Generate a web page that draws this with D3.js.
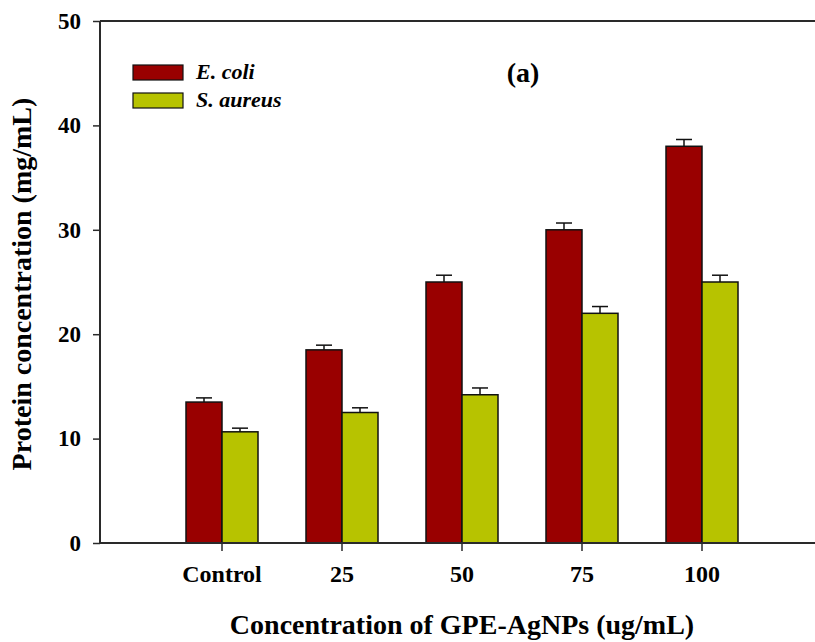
<!DOCTYPE html>
<html>
<head>
<meta charset="utf-8">
<script src="https://cdn.jsdelivr.net/npm/d3@7"></script>
<style>
  html, body { margin: 0; padding: 0; background: #fff; }
  svg { display: block; }
  text { font-family: "Liberation Serif", "Times New Roman", serif; font-weight: bold; fill: #000; }
</style>
</head>
<body>
<svg id="chart" width="815" height="642"></svg>
<script>
// ---- data ----
const categories = ["Control", "25", "50", "75", "100"];
const seriesNames = ["E. coli", "S. aureus"];
const ecoliValues = [13.5, 18.5, 25.0, 30.0, 38.0];
const ecoliErrors = [0.4, 0.45, 0.65, 0.65, 0.65];
const saureusValues = [10.65, 12.5, 14.2, 22.0, 25.0];
const saureusErrors = [0.35, 0.45, 0.65, 0.65, 0.65];
const yTicks = [0, 10, 20, 30, 40, 50];
const seriesColors = ["#990000", "#b7c300"];

const series = [
  { name: seriesNames[0], values: ecoliValues, errors: ecoliErrors, color: seriesColors[0] },
  { name: seriesNames[1], values: saureusValues, errors: saureusErrors, color: seriesColors[1] }
];

const svg = d3.select("#chart");
const plotLeft = 100, plotRight = 815, plotTop = 21, plotBottom = 543;

const x = d3.scaleBand().domain(categories).range([162, 762]).paddingInner(0.4).paddingOuter(0.2);
const xs = d3.scaleBand().domain(seriesNames).range([0, x.bandwidth()]);
const y = d3.scaleLinear().domain([0, 50]).range([plotBottom, plotTop]);

// bars
series.forEach(s => {
  const g = svg.append("g");
  g.selectAll("rect").data(categories).join("rect")
    .attr("x", c => x(c) + xs(s.name))
    .attr("y", (c, i) => y(s.values[i]))
    .attr("width", xs.bandwidth())
    .attr("height", (c, i) => y(0) - y(s.values[i]))
    .attr("fill", s.color)
    .attr("stroke", "#111")
    .attr("stroke-width", 1.5);
  // error bars
  const eg = svg.append("g").attr("stroke", "#111").attr("stroke-width", 1.5);
  categories.forEach((c, i) => {
    const cx = x(c) + xs(s.name) + xs.bandwidth() / 2;
    eg.append("line").attr("x1", cx).attr("x2", cx)
      .attr("y1", y(s.values[i])).attr("y2", y(s.values[i] + s.errors[i]));
    eg.append("line").attr("x1", cx - 8).attr("x2", cx + 8)
      .attr("y1", y(s.values[i] + s.errors[i])).attr("y2", y(s.values[i] + s.errors[i]));
  });
});

// axes
const axisColor = "#2a2a2a";
const xAxis = svg.append("g").attr("transform", `translate(0,${plotBottom})`)
  .call(d3.axisBottom(x).tickSize(8).tickPadding(14));
xAxis.select(".domain").remove();
xAxis.selectAll(".tick line").attr("stroke", axisColor).attr("stroke-width", 1.5);
xAxis.selectAll(".tick text").attr("font-size", 24).attr("fill", "#000")
  .style("font-family", "'Liberation Serif', 'Times New Roman', serif").style("font-weight", "bold");

const yAxis = svg.append("g").attr("transform", `translate(${plotLeft},0)`)
  .call(d3.axisLeft(y).tickValues(yTicks).tickFormat(d3.format("d")).tickSize(7).tickPadding(12));
yAxis.select(".domain").remove();
yAxis.selectAll(".tick line").attr("stroke", axisColor).attr("stroke-width", 1.5);
yAxis.selectAll(".tick text").attr("font-size", 23).attr("fill", "#000")
  .style("font-family", "'Liberation Serif', 'Times New Roman', serif").style("font-weight", "bold");

// frame lines (left, bottom, top)
svg.append("line").attr("x1", plotLeft).attr("x2", plotLeft).attr("y1", plotTop).attr("y2", plotBottom)
  .attr("stroke", axisColor).attr("stroke-width", 2);
svg.append("line").attr("x1", plotLeft).attr("x2", plotRight).attr("y1", plotBottom).attr("y2", plotBottom)
  .attr("stroke", axisColor).attr("stroke-width", 2);
svg.append("line").attr("x1", plotLeft).attr("x2", plotRight).attr("y1", plotTop).attr("y2", plotTop)
  .attr("stroke", axisColor).attr("stroke-width", 2);

// axis titles
svg.append("text").attr("x", 462).attr("y", 634).attr("text-anchor", "middle")
  .attr("font-size", 28).text("Concentration of GPE-AgNPs (ug/mL)");
svg.append("text").attr("transform", "translate(31,284) rotate(-90)").attr("text-anchor", "middle")
  .attr("font-size", 28).text("Protein concentration (mg/mL)");

// panel label
svg.append("text").attr("x", 523).attr("y", 82).attr("text-anchor", "middle")
  .attr("font-size", 28).text("(a)");

// legend
const legend = svg.append("g");
series.forEach((s, i) => {
  legend.append("rect").attr("x", 133).attr("y", 65 + i * 28).attr("width", 50).attr("height", 15)
    .attr("fill", s.color).attr("stroke", "#111").attr("stroke-width", 1.2);
  legend.append("text").attr("x", 196).attr("y", 79 + i * 28)
    .attr("font-size", 22).style("font-style", "italic").text(s.name);
});
</script>
</body>
</html>
